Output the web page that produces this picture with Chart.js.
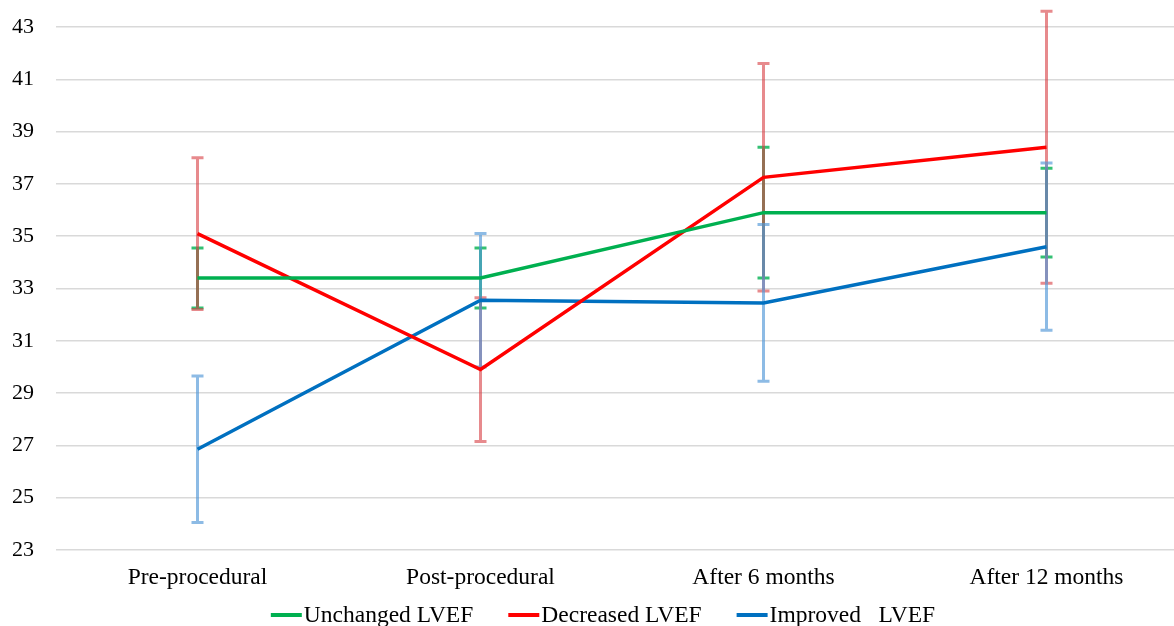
<!DOCTYPE html>
<html>
<head>
<meta charset="utf-8">
<script src="https://cdn.jsdelivr.net/npm/chart.js@4.4.1/dist/chart.umd.min.js"></script>
<style>
  html, body { margin: 0; padding: 0; background: #fff; overflow: hidden; }
  #wrap { width: 1188px; height: 626px; }
</style>
</head>
<body>
<div id="wrap"><canvas id="lvef"></canvas></div>
<script>
var stages = ['Pre-procedural', 'Post-procedural', 'After 6 months', 'After 12 months'];
var yTicks = [23, 25, 27, 29, 31, 33, 35, 37, 39, 41, 43];
var groups = ['Unchanged LVEF', 'Decreased LVEF', 'Improved   LVEF'];

// mean LVEF per group
var unchanged = [33.4, 33.4, 35.9, 35.9];
var decreased = [35.1, 29.9, 37.25, 38.4];
var improved  = [26.85, 32.55, 32.45, 34.6];

// error bar half widths (+/-)
var unchangedErr = [1.15, 1.15, 2.5, 1.7];
var decreasedErr = [2.9, 2.75, 4.35, 5.2];
var improvedErr  = [2.8, 2.55, 3.0, 3.2];

var lineColors = ['#00B050', '#FF0000', '#0070C0'];
var errColors = ['rgba(0,176,80,0.8)', 'rgba(215,60,65,0.6)', 'rgba(80,150,215,0.65)'];
var font = '23.5px "Liberation Serif"';

var errorBars = {
  id: 'errorBars',
  beforeDatasetsDraw: function(chart) {
    var ctx = chart.ctx;
    var y = chart.scales.y;
    chart.data.datasets.forEach(function(ds, i) {
      var meta = chart.getDatasetMeta(i);
      ctx.save();
      ctx.strokeStyle = errColors[i];
      ctx.lineWidth = 3;
      meta.data.forEach(function(pt, j) {
        var v = ds.data[j], e = ds.err[j];
        var top = y.getPixelForValue(v + e);
        var bot = y.getPixelForValue(v - e);
        ctx.beginPath();
        ctx.moveTo(pt.x, top); ctx.lineTo(pt.x, bot);
        ctx.moveTo(pt.x - 6, top); ctx.lineTo(pt.x + 6, top);
        ctx.moveTo(pt.x - 6, bot); ctx.lineTo(pt.x + 6, bot);
        ctx.stroke();
      });
      ctx.restore();
    });
  }
};

// legend like the spreadsheet one: short line, tiny gap, wide gap between items
var lineLegend = {
  id: 'lineLegend',
  afterDraw: function(chart) {
    var ctx = chart.ctx;
    var sw = 31, gap = 2, between = 35;
    ctx.save();
    ctx.font = font;
    var widths = chart.data.datasets.map(function(ds) { return ctx.measureText(ds.label).width; });
    var total = 0;
    widths.forEach(function(w) { total += sw + gap + w; });
    total += between * (widths.length - 1);
    var x = chart.width / 2 + 9 - total / 2;
    var yl = 615;
    chart.data.datasets.forEach(function(ds, i) {
      ctx.strokeStyle = ds.borderColor;
      ctx.lineWidth = 4;
      ctx.beginPath();
      ctx.moveTo(x, yl); ctx.lineTo(x + sw, yl);
      ctx.stroke();
      ctx.fillStyle = '#000';
      ctx.textBaseline = 'alphabetic';
      ctx.fillText(ds.label, x + sw + gap, 622);
      x += sw + gap + widths[i] + between;
    });
    ctx.restore();
  }
};

var ctx = document.getElementById('lvef').getContext('2d');
var chart = new Chart(ctx, {
  type: 'line',
  data: {
    labels: stages,
    datasets: [
      { label: groups[0], data: unchanged, err: unchangedErr, borderColor: lineColors[0], backgroundColor: lineColors[0] },
      { label: groups[1], data: decreased, err: decreasedErr, borderColor: lineColors[1], backgroundColor: lineColors[1] },
      { label: groups[2], data: improved, err: improvedErr, borderColor: lineColors[2], backgroundColor: lineColors[2] }
    ]
  },
  options: {
    responsive: true,
    maintainAspectRatio: false,
    animation: false,
    elements: {
      line: { borderWidth: 3.5, tension: 0 },
      point: { radius: 0 }
    },
    layout: { padding: { top: 27, right: 0, left: 0, bottom: 28 } },
    plugins: {
      legend: { display: false },
      tooltip: { enabled: false }
    },
    scales: {
      x: {
        offset: true,
        grid: { display: false, drawTicks: false },
        border: { display: false },
        afterFit: function(axis) { axis.height = 48; },
        ticks: { color: '#000', padding: 14, maxRotation: 0, font: { family: 'Liberation Serif', size: 23.5 } }
      },
      y: {
        min: 23,
        max: 43,
        afterBuildTicks: function(axis) { axis.ticks = yTicks.map(function(v) { return { value: v }; }); },
        afterFit: function(axis) { axis.width = 56; axis.paddingTop = 0; axis.paddingBottom = 0; },
        grid: { color: '#d9d9d9', lineWidth: 1.5, drawTicks: false },
        border: { display: false },
        ticks: { color: '#000', padding: 22, font: { family: 'Liberation Serif', size: 22 } }
      }
    }
  },
  plugins: [errorBars, lineLegend]
});
</script>
</body>
</html>
